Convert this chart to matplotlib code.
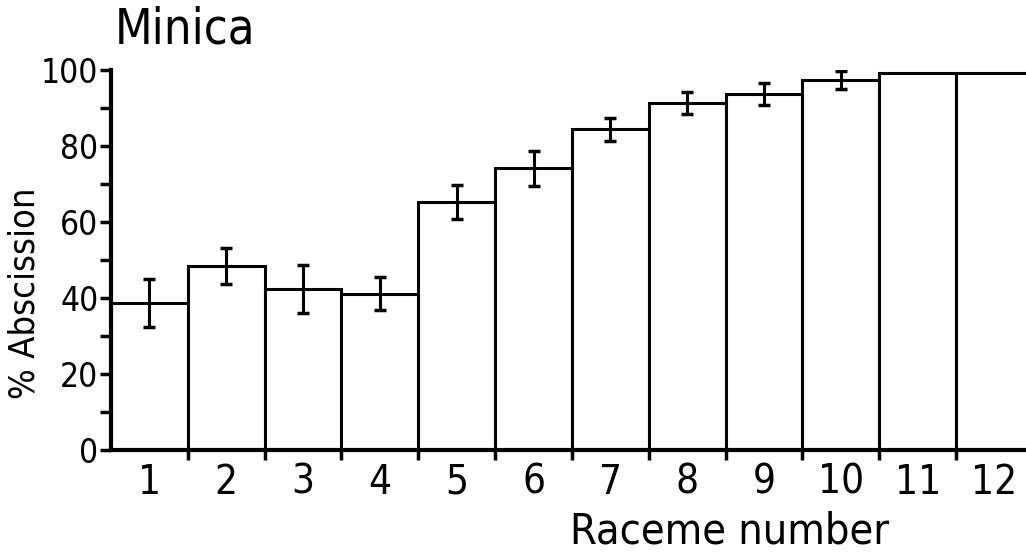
import matplotlib
matplotlib.use('Agg')
import matplotlib.pyplot as plt

# raceme number vs % abscission (Minica)
racemes = [1, 2, 3, 4, 5, 6, 7, 8, 9, 10, 11, 12]
abscission = [38.8, 48.4, 42.3, 41.1, 65.3, 74.1, 84.4, 91.3, 93.7, 97.3, 99.3, 99.2]
errors = [6.3, 4.7, 6.3, 4.3, 4.4, 4.6, 3.0, 3.0, 2.9, 2.4, 0, 0]
yticks = [0, 20, 40, 60, 80, 100]

plt.rcParams['font.family'] = ['DejaVu Sans']
plt.rcParams['font.stretch'] = 'condensed'

fig = plt.figure(figsize=(10.26, 5.53), dpi=100)
ax = fig.add_axes([111 / 1026, 1 - 450 / 553, 915 / 1026, 380 / 553])

ax.bar(racemes, abscission, width=1.0, color='white', edgecolor='black',
       linewidth=2.2, zorder=2)
has_err = [i for i, e in enumerate(errors) if e > 0]
ax.errorbar([racemes[i] for i in has_err], [abscission[i] for i in has_err],
            yerr=[errors[i] for i in has_err], fmt='none', ecolor='black',
            elinewidth=2.2, capsize=4, capthick=2.5, zorder=3)

ax.set_xlim(0.5, 12.41)
ax.set_ylim(0, 100)
ax.spines['top'].set_visible(False)
ax.spines['right'].set_visible(False)
ax.spines['left'].set_linewidth(3)
ax.spines['bottom'].set_linewidth(3)

ax.set_xticks(racemes)
ax.set_xticklabels([str(r) for r in racemes], fontsize=29)
ax.set_xticks([r + 0.5 for r in racemes[:-1]], minor=True)
ax.tick_params(axis='x', which='major', length=0, pad=9)
ax.tick_params(axis='x', which='minor', length=7, width=2.5, direction='out')

ax.set_yticks(yticks)
ax.set_yticklabels([str(t) for t in yticks], fontsize=24)
ax.set_yticks([10, 30, 50, 70, 90], minor=True)
ax.tick_params(axis='y', which='both', length=8, width=2.5, direction='out', pad=1)

fig.text(25 / 1026, 1 - 293 / 553, '% Abscission', fontsize=26, rotation=90,
         ha='center', va='center')
fig.text(115 / 1026, 1 - 6 / 553, 'Minica', fontsize=35, ha='left', va='top')
fig.text(570 / 1026, 1 - 543 / 553, 'Raceme number', fontsize=31,
         ha='left', va='baseline')

plt.savefig('out.png', dpi=100)
